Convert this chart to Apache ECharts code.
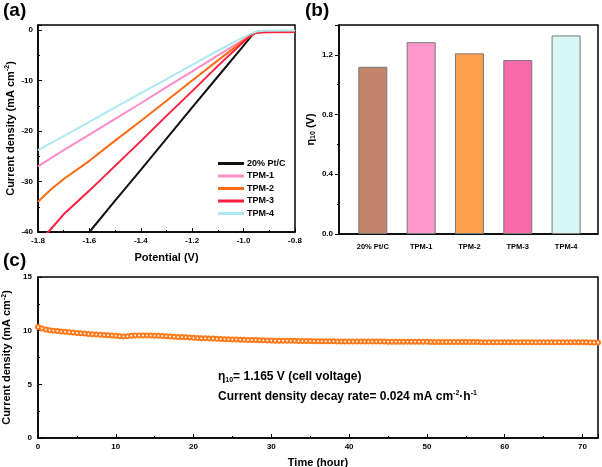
<!DOCTYPE html>
<html>
<head>
<meta charset="utf-8">
<script src="https://cdn.jsdelivr.net/npm/echarts@6/dist/echarts.min.js"></script>
<style>
html,body{margin:0;padding:0;background:#fff;}
#chart{width:602px;height:467px;}
</style>
</head>
<body>
<div id="chart"></div>
<script>
// ---- Panel (a): polarization curves [potential V, current density mA cm-2]
const curvePtC = [[-1.605,-40.5],[-1.6,-40],[-1.5,-33.8],[-1.4,-27.7],[-1.3,-21.5],[-1.2,-15.3],[-1.1,-9.2],[-1.0,-3.1],[-0.97,-1.2],[-0.955,-0.5],[-0.94,-0.3],[-0.9,-0.25],[-0.85,-0.25],[-0.8,-0.25]];
const curveTPM1 = [[-1.8,-27],[-1.7,-23.8],[-1.6,-20.7],[-1.5,-17.6],[-1.4,-14.5],[-1.3,-11.3],[-1.2,-8.2],[-1.1,-5.0],[-1.0,-1.9],[-0.97,-0.9],[-0.95,-0.4],[-0.92,-0.25],[-0.8,-0.2]];
const curveTPM2 = [[-1.8,-34],[-1.75,-31.6],[-1.7,-29.5],[-1.6,-25.9],[-1.5,-21.9],[-1.4,-18.0],[-1.3,-14.0],[-1.2,-10.0],[-1.1,-6.0],[-1.0,-2.1],[-0.97,-1.0],[-0.95,-0.5],[-0.92,-0.35],[-0.8,-0.3]];
const curveTPM3 = [[-1.78,-41],[-1.76,-40],[-1.7,-36.5],[-1.6,-31.8],[-1.5,-26.9],[-1.4,-22.0],[-1.3,-17.0],[-1.2,-12.1],[-1.1,-7.1],[-1.0,-2.3],[-0.97,-1.0],[-0.955,-0.6],[-0.93,-0.5],[-0.9,-0.45],[-0.8,-0.4]];
const curveTPM4 = [[-1.8,-23.8],[-1.7,-21.0],[-1.6,-18.2],[-1.5,-15.3],[-1.4,-12.5],[-1.3,-9.7],[-1.2,-6.9],[-1.1,-4.1],[-1.0,-1.4],[-0.97,-0.7],[-0.95,-0.3],[-0.92,-0.15],[-0.8,-0.1]];
const curveNames = ['20% Pt/C','TPM-1','TPM-2','TPM-3','TPM-4'];

// ---- Panel (b): overpotential at 10 mA cm-2
const barCategories = ['20% Pt/C','TPM-1','TPM-2','TPM-3','TPM-4'];
const eta10Values = [1.12, 1.285, 1.21, 1.165, 1.33];

// ---- Panel (c): stability, sampled every 0.5 h from 0 to 72 h
const stabilityStepHours = 0.5;
const stabilityCurrent = [
  10.35,10.2,10.1,10.05,10.0,9.97,9.93,9.9,9.86,9.82,
  9.79,9.76,9.73,9.7,9.67,9.64,9.62,9.6,9.57,9.55,
  9.52,9.49,9.45,9.48,9.52,9.54,9.55,9.55,9.55,9.54,
  9.53,9.52,9.5,9.48,9.46,9.44,9.42,9.4,9.38,9.36,
  9.34,9.32,9.3,9.29,9.27,9.26,9.24,9.23,9.21,9.2,
  9.18,9.17,9.16,9.15,9.14,9.13,9.12,9.11,9.1,9.09,
  9.08,
  9.07,9.07,9.06,9.06,9.05,9.05,9.04,9.04,9.03,9.03,
  9.02,9.02,9.02,9.01,9.01,9.01,9.0,9.0,9.0,9.0,
  8.99,8.99,8.99,8.99,8.98,8.98,8.98,8.98,8.98,8.97,
  8.97,8.97,8.97,8.97,8.96,8.96,8.96,8.96,8.96,8.96,
  8.95,8.95,8.95,8.95,8.95,8.95,8.94,8.94,8.94,8.94,
  8.94,8.94,8.94,8.93,8.93,8.93,8.93,8.93,8.93,8.93,
  8.93,8.92,8.92,8.92,8.92,8.92,8.92,8.92,8.92,8.92,
  8.92,8.91,8.91,8.91,8.91,8.91,8.91,8.91,8.91,8.91,
  8.91,8.9,8.9,8.9
];

const FONT = '"Liberation Sans", Arial, sans-serif';
const lineColors = ['#111111','#ff8cc6','#ff6a12','#ff1e3e','#ace8f2'];
const barColors = ['#c4846b','#ff99cc','#ffa04c','#f76aa8','#d9f6f6'];

const chart = echarts.init(document.getElementById('chart'));

function valueAxis(extra){
  return Object.assign({
    type:'value',
    axisLine:{show:true,onZero:false,lineStyle:{color:'#000',width:1.5}},
    axisTick:{show:true,inside:true,length:4,lineStyle:{color:'#000',width:1}},
    minorTick:{show:true,splitNumber:2,length:2,lineStyle:{color:'#000',width:1}},
    splitLine:{show:false},
    axisLabel:{color:'#000',fontFamily:FONT,fontSize:8,fontWeight:'bold',margin:5},
    nameTextStyle:{color:'#000',fontFamily:FONT,fontSize:11,fontWeight:'bold'}
  }, extra);
}

const curves = [curvePtC, curveTPM1, curveTPM2, curveTPM3, curveTPM4];
const stabilityData = stabilityCurrent.map((v,i)=>[i*stabilityStepHours, v]);
// bar positions: category k sits at value k+1 on the bar panel's x axis
const barPositions = barCategories.map((_,i)=>i+1);
const barData = eta10Values.map((v,i)=>({value:[barPositions[i],v],itemStyle:{color:barColors[i],borderColor:'#7a7a7a',borderWidth:1}}));

const supRich = {
  b:{fontFamily:FONT,fontSize:11,fontWeight:'bold',color:'#000'},
  sup:{fontFamily:FONT,fontSize:7,fontWeight:'bold',color:'#000',verticalAlign:'top',padding:[0,0,6,0]}
};

const gridBase = {show:true,borderColor:'#000',borderWidth:1.5,backgroundColor:'transparent',containLabel:false,outerBoundsMode:'none'};

const option = {
  animation:false,
  textStyle:{fontFamily:FONT},
  grid:[
    Object.assign({left:38,top:25,width:257,height:207},gridBase),
    Object.assign({left:339,top:25,width:259,height:209},gridBase),
    Object.assign({left:38,top:277,width:560,height:161},gridBase)
  ],
  legend:{
    data:curveNames,
    orient:'vertical',
    left:213,top:154,
    itemWidth:26,itemHeight:3,itemGap:3.5,
    icon:'rect',
    textStyle:{fontFamily:FONT,fontSize:9,fontWeight:'bold',color:'#000',padding:[0,0,0,-2]}
  },
  xAxis:[
    valueAxis({gridIndex:0,min:-1.8,max:-0.8,interval:0.2,name:'Potential (V)',nameLocation:'middle',nameGap:20,
      axisLabel:{color:'#000',fontFamily:FONT,fontSize:8,fontWeight:'bold',margin:5,formatter:v=>v.toFixed(1)}}),
    {type:'value',gridIndex:1,min:0.3,max:5.66,
      axisLine:{show:true,onZero:false,lineStyle:{color:'#000',width:1.5}},
      axisTick:{show:false},
      splitLine:{show:false},
      axisLabel:{color:'#000',fontFamily:FONT,fontSize:7.5,fontWeight:'bold',margin:9,
        customValues:barPositions,
        formatter:v=>barCategories[Math.round(v)-1] || ''}},
    valueAxis({gridIndex:2,min:0,max:72,interval:10,name:'Time (hour)',nameLocation:'middle',nameGap:19,
      axisLabel:{color:'#000',fontFamily:FONT,fontSize:8,fontWeight:'bold',margin:5,showMaxLabel:false}})
  ],
  yAxis:[
    valueAxis({gridIndex:0,min:-40,max:1,interval:10,nameLocation:'middle',nameGap:21,
      name:'{b|Current density (mA cm}{sup|-2}{b|)}',nameTextStyle:{rich:supRich},
      axisLabel:{color:'#000',fontFamily:FONT,fontSize:8,fontWeight:'bold',margin:5,showMaxLabel:false}}),
    valueAxis({gridIndex:1,min:0,max:1.4,interval:0.4,nameLocation:'middle',nameGap:22,
      name:'{n|η}{sub|10}{n| (V)}',
      nameTextStyle:{rich:{
        n:{fontFamily:FONT,fontSize:11,fontWeight:'bold',color:'#000'},
        sub:{fontFamily:FONT,fontSize:7,fontWeight:'bold',color:'#000',verticalAlign:'bottom',padding:[5,0,0,0]}
      }},
      axisTick:{show:true,inside:false,length:4,lineStyle:{color:'#000',width:1}},
      minorTick:{show:true,splitNumber:2,length:2,lineStyle:{color:'#000',width:1}},
      axisLabel:{color:'#000',fontFamily:FONT,fontSize:8,fontWeight:'bold',margin:6,showMaxLabel:false,formatter:v=>v.toFixed(1)}}),
    valueAxis({gridIndex:2,min:0,max:15,interval:5,nameLocation:'middle',nameGap:21,
      name:'{b|Current density (mA cm}{sup|-2}{b|)}',nameTextStyle:{rich:supRich},
      axisLabel:{color:'#000',fontFamily:FONT,fontSize:8,fontWeight:'bold',margin:6}})
  ],
  series:[
    ...curves.map((c,i)=>({
      type:'line',name:curveNames[i],xAxisIndex:0,yAxisIndex:0,data:c,
      showSymbol:false,symbol:'none',clip:true,
      lineStyle:{color:lineColors[i],width:2},itemStyle:{color:lineColors[i]}
    })),
    {type:'bar',xAxisIndex:1,yAxisIndex:1,barWidth:29,data:barData},
    {type:'line',xAxisIndex:2,yAxisIndex:2,data:stabilityData,
      symbol:'emptyCircle',symbolSize:4,showSymbol:true,
      lineStyle:{width:0,color:'#ff7a1a'},
      itemStyle:{color:'#ff7a1a',borderColor:'#ff7a1a',borderWidth:1}}
  ],
  graphic:[
    {type:'text',left:3,top:1,style:{text:'(a)',font:'bold 19px '+FONT,fill:'#000'}},
    {type:'text',left:305,top:1,style:{text:'(b)',font:'bold 19px '+FONT,fill:'#000'}},
    {type:'text',left:3,top:251,style:{text:'(c)',font:'bold 19px '+FONT,fill:'#000'}},
    {type:'text',left:218,top:371,style:{
      text:'{n|η}{sub|10}{n|= 1.165 V (cell voltage)}',
      rich:{
        n:{fontFamily:FONT,fontSize:12,fontWeight:'bold',fill:'#000'},
        sub:{fontFamily:FONT,fontSize:7,fontWeight:'bold',fill:'#000',verticalAlign:'bottom',padding:[6,0,0,0]}
      }}},
    {type:'text',left:218,top:390,style:{
      text:'{n|Current density decay rate= 0.024 mA cm}{sup|-2}{n|·h}{sup|-1}',
      rich:{
        n:{fontFamily:FONT,fontSize:12,fontWeight:'bold',fill:'#000'},
        sup:{fontFamily:FONT,fontSize:7,fontWeight:'bold',fill:'#000',verticalAlign:'top',padding:[0,0,6,0]}
      }}}
  ]
};
chart.setOption(option);
</script>
</body>
</html>
